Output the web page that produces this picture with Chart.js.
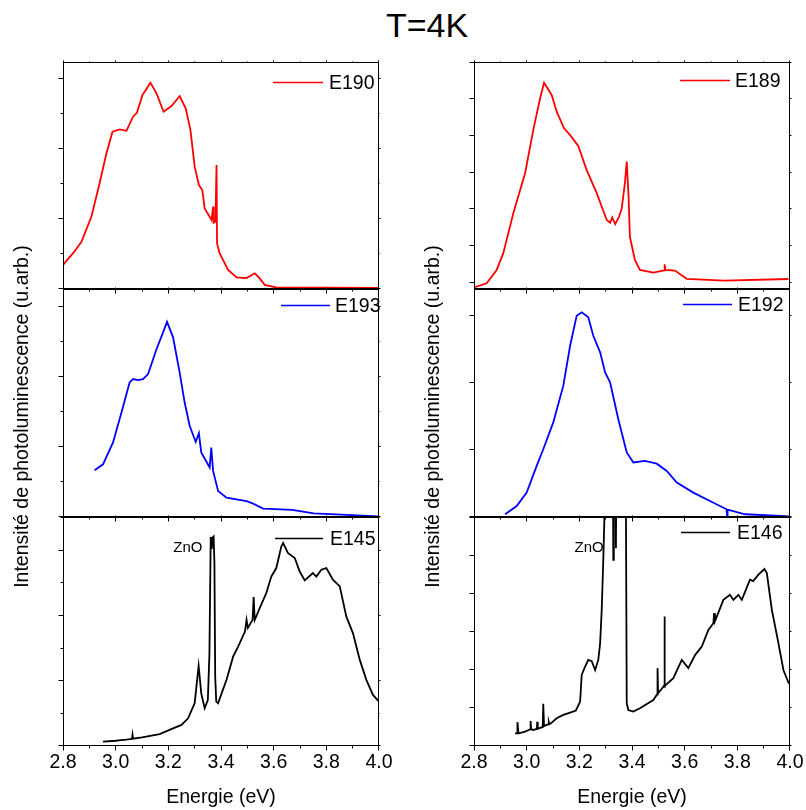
<!DOCTYPE html>
<html>
<head>
<meta charset="utf-8">
<script src="https://cdn.jsdelivr.net/npm/chart.js@4.4.1/dist/chart.umd.min.js"></script>
<style>
  body { margin: 0; background: #fff; overflow: hidden; }
  #fig { position: relative; width: 806px; height: 810px; }
  #fig canvas { position: absolute; }
  #title { position: absolute; left: 327px; top: 5px; width: 200px; text-align: center;
           font-family: 'Liberation Sans', Arial, sans-serif; font-size: 34px; line-height: 40px; color: #000; }
</style>
</head>
<body>
<div id="fig"><div id="title">T=4K</div></div>
<script>
// energy (eV) / PL intensity (% of panel height, arbitrary units)
const energy190 = [2.800, 2.840, 2.870, 2.908, 2.939, 2.965, 2.988, 3.015, 3.041, 3.066, 3.081, 3.102, 3.132, 3.155, 3.182, 3.212, 3.243, 3.266, 3.284, 3.300, 3.316, 3.329, 3.338, 3.364, 3.370, 3.372, 3.379, 3.383, 3.385, 3.395, 3.427, 3.459, 3.497, 3.528, 3.544, 3.566, 3.610, 4.000];
const pl190 = [10.6, 16.0, 20.8, 31.9, 46.6, 59.8, 69.3, 70.3, 69.7, 75.9, 77.7, 85.5, 90.9, 86.2, 78.1, 80.6, 85.0, 79.6, 70.0, 53.9, 45.8, 43.6, 35.5, 30.4, 36.3, 29.2, 29.6, 54.6, 20.1, 15.7, 8.4, 5.1, 4.8, 6.9, 5.1, 1.8, 0.7, 0.5];

const energy193 = [2.920, 2.952, 2.990, 3.022, 3.053, 3.066, 3.085, 3.104, 3.123, 3.155, 3.180, 3.195, 3.218, 3.243, 3.262, 3.281, 3.304, 3.316, 3.325, 3.357, 3.363, 3.370, 3.389, 3.421, 3.497, 3.520, 3.560, 3.670, 3.752, 4.000];
const pl193 = [20.5, 23.1, 32.7, 45.8, 59.0, 60.5, 60.0, 60.5, 62.7, 73.6, 81.0, 85.6, 78.8, 63.4, 50.2, 40.0, 32.9, 36.8, 28.3, 21.7, 30.5, 20.2, 11.4, 8.5, 7.0, 6.0, 3.7, 3.1, 1.6, 0.3];

const energy145 = [2.952, 3.000, 3.020, 3.040, 3.062, 3.064, 3.066, 3.100, 3.167, 3.218, 3.250, 3.275, 3.300, 3.315, 3.325, 3.338, 3.350, 3.356, 3.361, 3.365, 3.368, 3.372, 3.375, 3.378, 3.382, 3.389, 3.421, 3.446, 3.465, 3.491, 3.497, 3.502, 3.520, 3.524, 3.528, 3.547, 3.572, 3.591, 3.610, 3.629, 3.636, 3.654, 3.680, 3.699, 3.718, 3.749, 3.762, 3.781, 3.800, 3.825, 3.851, 3.876, 3.901, 3.927, 3.952, 3.977, 4.000];
const pl145 = [1.9, 2.3, 2.6, 2.8, 3.1, 4.9, 3.2, 3.8, 5.2, 7.7, 9.2, 12.1, 18.7, 35.0, 23.0, 16.5, 20.1, 40.0, 91.3, 86.0, 91.0, 91.5, 80.0, 30.0, 19.4, 18.7, 28.9, 39.0, 43.4, 50.0, 55.1, 51.6, 55.1, 65.0, 55.0, 60.2, 66.8, 74.0, 77.7, 87.1, 88.6, 84.3, 82.1, 76.2, 72.3, 75.5, 74.0, 77.0, 77.7, 72.6, 69.7, 56.5, 49.3, 37.6, 28.9, 22.3, 19.4];

const energy189 = [2.800, 2.848, 2.886, 2.911, 2.949, 2.994, 3.025, 3.051, 3.066, 3.095, 3.114, 3.142, 3.165, 3.196, 3.228, 3.266, 3.304, 3.317, 3.325, 3.336, 3.351, 3.361, 3.373, 3.380, 3.387, 3.392, 3.411, 3.430, 3.481, 3.522, 3.524, 3.527, 3.563, 3.608, 3.750, 3.994];
const pl189 = [0.7, 2.5, 8.4, 15.7, 33.3, 51.0, 70.0, 84.0, 90.9, 85.5, 78.1, 70.8, 67.8, 63.0, 52.4, 42.2, 30.4, 29.2, 31.6, 28.6, 31.9, 35.5, 46.6, 56.1, 40.7, 23.0, 12.8, 8.4, 7.2, 8.2, 10.9, 8.4, 8.1, 4.5, 3.7, 4.4];

const energy192 = [2.918, 2.962, 3.000, 3.038, 3.063, 3.101, 3.139, 3.165, 3.190, 3.209, 3.234, 3.253, 3.279, 3.298, 3.317, 3.348, 3.380, 3.405, 3.449, 3.494, 3.532, 3.570, 3.633, 3.696, 3.759, 3.761, 3.763, 3.830, 4.000];
const pl192 = [1.2, 4.8, 10.7, 22.4, 29.7, 41.5, 57.5, 75.1, 88.3, 89.8, 87.6, 79.5, 72.2, 63.4, 59.0, 42.9, 28.3, 23.9, 24.6, 23.4, 20.2, 15.1, 10.7, 7.0, 3.4, 0.3, 3.2, 1.2, 0.3];

const energy146 = [2.956, 2.964, 2.965, 2.969, 2.994, 3.014, 3.015, 3.017, 3.025, 3.039, 3.040, 3.042, 3.053, 3.061, 3.063, 3.066, 3.082, 3.084, 3.086, 3.092, 3.114, 3.139, 3.165, 3.187, 3.203, 3.209, 3.222, 3.234, 3.247, 3.260, 3.272, 3.279, 3.285, 3.291, 3.295, 3.299, 3.327, 3.329, 3.331, 3.337, 3.339, 3.341, 3.376, 3.380, 3.386, 3.405, 3.430, 3.481, 3.495, 3.497, 3.499, 3.519, 3.522, 3.523, 3.525, 3.557, 3.589, 3.614, 3.640, 3.665, 3.690, 3.709, 3.712, 3.715, 3.722, 3.747, 3.772, 3.785, 3.804, 3.817, 3.848, 3.860, 3.880, 3.903, 3.912, 3.931, 3.956, 3.975, 3.994, 4.000];
const pl146 = [5.5, 5.5, 10.4, 5.5, 6.3, 7.3, 10.9, 7.3, 7.0, 7.5, 10.6, 7.5, 8.0, 8.2, 18.4, 8.7, 9.5, 10.4, 9.5, 9.9, 12.1, 13.6, 14.6, 15.5, 19.4, 31.0, 34.7, 37.6, 37.0, 33.2, 37.6, 44.9, 59.5, 81.3, 98.8, 130, 130, 81.3, 130, 130, 86.4, 130, 130, 18.7, 15.7, 15.0, 16.5, 20.1, 22.5, 34.0, 23.0, 25.9, 26.5, 56.5, 26.2, 29.6, 37.6, 34.0, 39.8, 43.4, 50.7, 53.6, 58.0, 54.5, 56.5, 63.8, 66.0, 63.8, 66.0, 63.8, 72.6, 72.0, 74.8, 77.3, 75.5, 59.5, 44.9, 33.2, 27.7, 27.0];

const xTickValues = [2.8, 3.0, 3.2, 3.4, 3.6, 3.8, 4.0];
const xMinorValues = [2.9, 3.1, 3.3, 3.5, 3.7, 3.9];
const xTitle = 'Energie (eV)';
const yTitle = 'Intensité de photoluminescence (u.arb.)\u00a0\u00a0\u00a0\u00a0\u00a0';

Chart.defaults.font.family = "'Liberation Sans', Arial, sans-serif";
Chart.defaults.color = '#000';

const PLOT_W = 316;
const fig = document.getElementById('fig');

// box, outward ticks, in-plot legend and the ZnO note
const framePlugin = {
  id: 'frame',
  afterDraw(chart, args, o) {
    const {ctx, chartArea: a} = chart;
    const x = chart.scales.x, y = chart.scales.y;
    const L = Math.round(a.left) + 0.5, R = Math.round(a.right) - 0.5;
    const T = Math.round(a.top) + 0.5, B = Math.round(a.bottom) - 0.5;
    const cx = p => Math.min(Math.max(Math.floor(p) + 0.5, L), R);
    const cy = p => Math.min(Math.max(Math.ceil(p) - 0.5, T), B);
    ctx.save();
    ctx.strokeStyle = '#000';
    ctx.lineWidth = 1;
    ctx.strokeRect(L, T, R - L, B - T);
    ctx.beginPath();
    xTickValues.forEach(v => {
      const px = cx(x.getPixelForValue(v));
      ctx.moveTo(px, B); ctx.lineTo(px, B + 5);
      ctx.moveTo(px, T); ctx.lineTo(px, T - 2);
    });
    xMinorValues.forEach(v => {
      const px = cx(x.getPixelForValue(v));
      ctx.moveTo(px, B); ctx.lineTo(px, B + 3);
      ctx.moveTo(px, T); ctx.lineTo(px, T - 1);
    });
    for (let i = 0; o.yStart + i * o.yStep <= 100.5; i++) {
      const py = cy(y.getPixelForValue(o.yStart + i * o.yStep));
      const major = !o.yMinor || i % 2 === 0;
      ctx.moveTo(L, py); ctx.lineTo(L - (major ? 5 : 3), py);
      ctx.moveTo(R, py); ctx.lineTo(R + (major ? 2 : 1), py);
    }
    ctx.stroke();

    const ds = chart.data.datasets[0];
    const lg = o.legend;
    const ly = Math.round(a.top + lg.dy) + 0.5;
    ctx.beginPath();
    ctx.strokeStyle = ds.borderColor;
    ctx.lineWidth = 1.5;
    ctx.moveTo(a.right + lg.x0, ly);
    ctx.lineTo(a.right + lg.x1, ly);
    ctx.stroke();
    ctx.fillStyle = '#000';
    ctx.font = "19.5px 'Liberation Sans', Arial, sans-serif";
    ctx.textAlign = 'left';
    ctx.textBaseline = 'middle';
    ctx.fillText(ds.label, a.right + lg.tx, ly + 1);

    if (o.note) {
      ctx.font = "15px 'Liberation Sans', Arial, sans-serif";
      ctx.textAlign = 'center';
      ctx.fillText(o.note.text, x.getPixelForValue(o.note.x), y.getPixelForValue(o.note.y));
    }
    ctx.restore();
  }
};

function makePanel(p) {
  const kind = p.kind;
  const padL = kind === 'bot' ? 16 : (kind === 'mid' ? 0 : 8);
  const padR = kind === 'bot' ? 16 : 6;
  const padT = kind === 'mid' ? 60 : 6;
  const padB = kind === 'bot' ? 0 : (kind === 'mid' ? 85 : 8);
  const axisW = kind === 'mid' ? 54 : 0;
  const axisH = kind === 'bot' ? 63 : 0;

  const cv = document.createElement('canvas');
  cv.width = padL + axisW + PLOT_W + padR;
  cv.height = padT + p.h + padB + axisH;
  cv.style.left = (p.left - padL - axisW) + 'px';
  cv.style.top = (p.top - padT) + 'px';
  fig.appendChild(cv);

  new Chart(cv, {
    type: 'line',
    data: {
      datasets: [{
        label: p.label,
        data: p.xs.map((e, i) => ({x: e, y: p.ys[i]})),
        borderColor: p.color,
        borderWidth: 1.8,
        pointRadius: 0,
        tension: 0
      }]
    },
    options: {
      responsive: false,
      animation: false,
      devicePixelRatio: 1,
      layout: { padding: {left: padL, right: padR, top: padT, bottom: padB} },
      plugins: {
        legend: { display: false },
        tooltip: { enabled: false },
        frame: { yStart: p.yStart, yStep: p.yStep, yMinor: p.yMinor, legend: p.legend, note: p.note }
      },
      scales: {
        x: {
          type: 'linear', min: 2.8, max: 4.0,
          display: kind === 'bot',
          grid: { display: false },
          border: { display: false },
          afterBuildTicks: s => { s.ticks = xTickValues.map(v => ({value: v})); },
          afterFit: s => { s.height = axisH; },
          ticks: { padding: -3, font: {size: 19.5}, maxRotation: 0, autoSkip: false,
                   callback: v => v.toFixed(1) },
          title: { display: true, text: xTitle, font: {size: 19.5}, padding: {top: 0, bottom: 0} }
        },
        y: {
          type: 'linear', min: 0, max: 100,
          display: kind === 'mid',
          grid: { display: false },
          border: { display: false },
          ticks: { display: false },
          afterFit: s => { s.width = axisW; },
          title: { display: true, text: yTitle, font: {size: 19.5}, padding: {top: 2, bottom: 0} }
        }
      }
    },
    plugins: [framePlugin]
  });
}

const COL_L = 63, COL_R = 474;

makePanel({ kind: 'top', left: COL_L, top: 62, h: 227, xs: energy190, ys: pl190, label: 'E190', color: '#ff0000',
  yStart: 0, yStep: 15.42, yMinor: true, legend: {dy: 20, x0: -106, x1: -56, tx: -50} });
makePanel({ kind: 'mid', left: COL_L, top: 289, h: 228, xs: energy193, ys: pl193, label: 'E193', color: '#0000ff',
  yStart: 0, yStep: 15.38, yMinor: true, legend: {dy: 16, x0: -98, x1: -49, tx: -44} });
makePanel({ kind: 'bot', left: COL_L, top: 517, h: 229, xs: energy145, ys: pl145, label: 'E145', color: '#000000',
  yStart: 0, yStep: 14.24, yMinor: true, legend: {dy: 21, x0: -104, x1: -56, tx: -49},
  note: {text: 'ZnO', x: 3.274, y: 86.6} });

makePanel({ kind: 'top', left: COL_R, top: 62, h: 227, xs: energy189, ys: pl189, label: 'E189', color: '#ff0000',
  yStart: 2.9, yStep: 16.2, yMinor: false, legend: {dy: 18, x0: -110, x1: -60, tx: -55} });
makePanel({ kind: 'mid', left: COL_R, top: 289, h: 228, xs: energy192, ys: pl192, label: 'E192', color: '#0000ff',
  yStart: 0, yStep: 29.5, yMinor: false, legend: {dy: 15, x0: -107, x1: -58, tx: -52} });
makePanel({ kind: 'bot', left: COL_R, top: 517, h: 229, xs: energy146, ys: pl146, label: 'E146', color: '#000000',
  yStart: 0, yStep: 16.65, yMinor: false, legend: {dy: 15, x0: -109, x1: -60, tx: -53},
  note: {text: 'ZnO', x: 3.237, y: 86.6} });
</script>
</body>
</html>
